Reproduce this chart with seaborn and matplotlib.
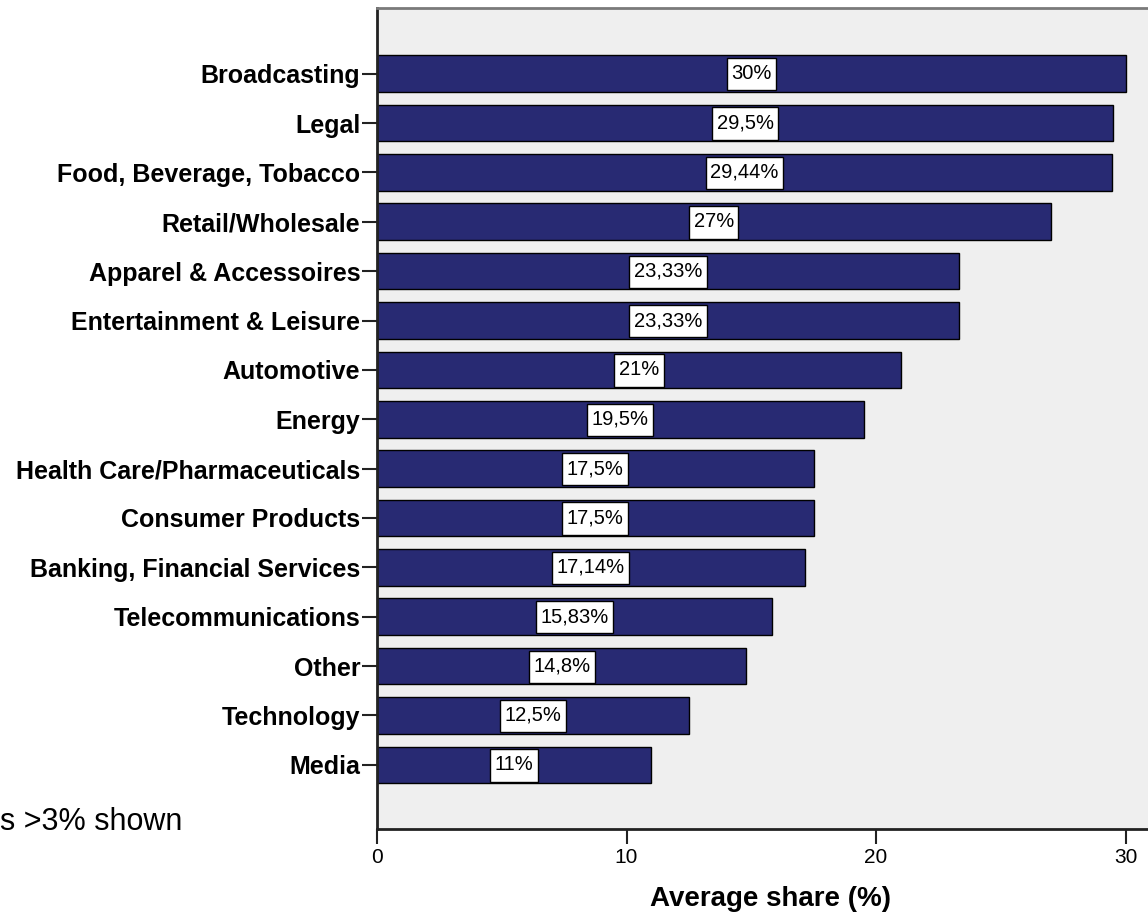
import matplotlib
matplotlib.use("Agg")
import matplotlib.pyplot as plt
from matplotlib.path import Path
import seaborn as sns
import pandas as pd

# Average share by industry (percent)
industries = [
    "Broadcasting", "Legal", "Food, Beverage, Tobacco", "Retail/Wholesale",
    "Apparel & Accessoires", "Entertainment & Leisure", "Automotive", "Energy",
    "Health Care/Pharmaceuticals", "Consumer Products",
    "Banking, Financial Services", "Telecommunications", "Other",
    "Technology", "Media",
]
shares = [30, 29.5, 29.44, 27, 23.33, 23.33, 21, 19.5, 17.5, 17.5,
          17.14, 15.83, 14.8, 12.5, 11]
x_ticks = [0, 10, 20, 30]

df = pd.DataFrame({"industry": industries, "share": shares})

sns.set_theme(style="white")
plt.rcParams["font.family"] = ["Liberation Sans", "DejaVu Sans"]
plt.rcParams.update({"text.color": "black", "axes.labelcolor": "black",
                     "xtick.color": "black", "ytick.color": "black"})


def label_box(x0, y0, width, height, mutation_size):
    """Rectangle with a little more room above and below than at the sides."""
    px = 0.22 * mutation_size
    py_top = 0.30 * mutation_size
    py_bot = 0.36 * mutation_size
    x0, x1 = x0 - px, x0 + width + px
    y0, y1 = y0 - py_bot, y0 + height + py_top
    return Path([(x0, y0), (x1, y0), (x1, y1), (x0, y1), (x0, y0)], closed=True)


W, H = 1148, 915
fig = plt.figure(figsize=(W / 100, H / 100), dpi=100)
left, right, top, bottom = 377, 1148, 8, 829
ax = fig.add_axes([left / W, 1 - bottom / H, (right - left) / W, (bottom - top) / H])
ax.set_facecolor("#efefef")

sns.barplot(data=df, x="share", y="industry", orient="h", color="#282a73",
            saturation=1, edgecolor="black", linewidth=1.0, width=0.74, ax=ax)

ax.set_xlim(0, 30.9)
ax.set_ylim(15.3, -1.33)
ax.set_xticks(x_ticks)
ax.set_xticklabels([str(t) for t in x_ticks], fontsize=15)

for lab in ax.get_yticklabels():
    lab.set_fontweight("bold")
    lab.set_fontsize(18)
    lab.set_color("black")
ax.tick_params(axis="y", which="major", left=True, length=11, width=1.5,
               color="#222222", pad=1)
ax.tick_params(axis="x", which="major", bottom=True, length=11, width=1.5,
               color="#222222", pad=3)

# value labels in white boxes at the middle of each bar
labels = [f"{v:g}".replace(".", ",") + "%" for v in shares]
ax.bar_label(ax.containers[0], labels=labels, label_type="center",
             fontsize=14.5, color="black",
             bbox=dict(boxstyle=label_box, fc="white", ec="black", lw=1.0))

ax.set_ylabel("")
ax.set_xlabel("Average share (%)", fontsize=20, fontweight="bold", color="black")
ax.xaxis.set_label_coords((771 - left) / (right - left), -0.069)

for side in ["left", "bottom"]:
    ax.spines[side].set_color("#222222")
    ax.spines[side].set_linewidth(2)
ax.spines["top"].set_color("#7a7a7a")
ax.spines["top"].set_linewidth(2)
ax.spines["right"].set_visible(False)

fig.text(0.0, 1 - 822 / H, "s >3% shown", fontsize=22, ha="left", va="center",
         color="black")

fig.savefig("out.png", dpi=100)
